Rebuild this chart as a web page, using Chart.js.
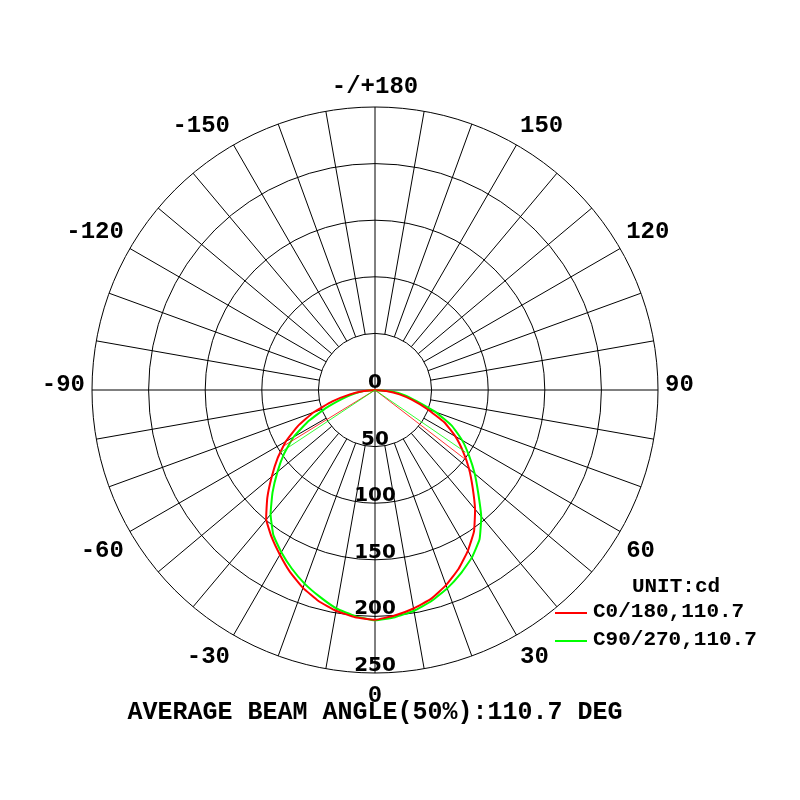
<!DOCTYPE html>
<html>
<head>
<meta charset="utf-8">
<title>Polar intensity curve</title>
<script src="https://cdn.jsdelivr.net/npm/chart.js@4.4.1/dist/chart.umd.min.js"></script>
<style>
  html, body { margin: 0; padding: 0; background: #fff; }
  #chart { display: block; }
</style>
</head>
<body>
<canvas id="chart" width="800" height="800"></canvas>
<script>
// Gamma angles of the readings, 0 = straight down, 90 = horizontal
const gammaSteps = [0, 5, 10, 15, 20, 25, 30, 35, 40, 45, 50, 55, 60, 65, 70, 75, 80, 85, 90];

// Intensity (cd), per half plane
const c0Values   = [203, 200, 196, 191, 183.5, 174.5, 164, 152.5, 137.5, 122, 108.5, 95, 82, 67.5, 49, 34, 22, 10, 0];
const c180Values = [203, 201.5, 198, 193, 186, 177.5, 168, 159, 149.5, 134.5, 119, 105, 91, 75, 58, 39, 22.5, 10, 0];
const c90Values  = [203.5, 201.5, 198, 193, 186.5, 179, 171, 161, 146, 129, 115, 101.5, 89, 75, 57, 38, 27, 15, 0];
const c270Values = [203.5, 200.5, 196, 189, 182, 174, 165.5, 156.5, 143.5, 128, 112.5, 98, 83, 64.5, 45.5, 30, 19, 9, 0];

// Half-peak (beam edge) markers: angle (deg, + = right side) and value
const redBeamAngles = [52.5, -58.5];
const redBeamValues = [99, 96];
const greenBeamAngles = [55.5, -56.5];
const greenBeamValues = [97, 100];

// Radial rings, grid spoke step and the angle labels shown
const ringTicks = [0, 50, 100, 150, 200, 250];
const spokeStep = 10;
const angleTickLabels = [0, 30, 60, 90, 120, 150, 180, -150, -120, -90, -60, -30];

const legendTitle = "UNIT:cd";
const seriesNames = ["C0/180,110.7", "C90/270,110.7"];
const seriesColors = ["#ff0000", "#00ff00"];
const footerText = "AVERAGE BEAM ANGLE(50%):110.7 DEG";

// Radar positions every 5 degrees, starting at the bottom and going clockwise (to the left side)
let spokeAngles = [];
for (let i = 0; i < 72; i++) {
    spokeAngles.push(i <= 36 ? -5 * i : 360 - 5 * i);
}

// Merge the two half planes into one ring of values
let buildRing = (rightHalf, leftHalf) => {
    return spokeAngles.map(a => {
        let k = gammaSteps.indexOf(Math.abs(a));
        if (k < 0) return 0;
        return a >= 0 ? rightHalf[k] : leftHalf[k];
    });
};

// Angle in degrees -> (fractional) radar index
let angleToIndex = (a) => {
    let idx = -a / 5;
    if (idx < 0) idx += 72;
    return idx;
};

const monoBold = (size) => "bold " + size + "px 'Liberation Mono', 'Courier New', monospace";

// Spokes, beam lines and all text, placed through the radial scale
const polarDecor = {
    id: "polarDecor",
    beforeDatasetsDraw(chart) {
        const ctx = chart.ctx;
        const r = chart.scales.r;
        ctx.save();
        ctx.strokeStyle = "#000";
        ctx.lineWidth = 1;
        spokeAngles.forEach((a, i) => {
            if (a % spokeStep !== 0) return;
            let from = (a % 90 === 0) ? 0 : ringTicks[1];
            let p0 = r.getPointPositionForValue(i, from);
            let p1 = r.getPointPositionForValue(i, ringTicks[ringTicks.length - 1]);
            ctx.beginPath();
            ctx.moveTo(p0.x, p0.y);
            ctx.lineTo(p1.x, p1.y);
            ctx.stroke();
        });
        ctx.restore();
    },
    afterDatasetsDraw(chart) {
        const ctx = chart.ctx;
        const r = chart.scales.r;
        const c = r.getPointPositionForValue(0, 0);
        ctx.save();

        // thin beam-edge lines
        ctx.lineWidth = 0.8;
        [[redBeamAngles, redBeamValues, seriesColors[0]], [greenBeamAngles, greenBeamValues, seriesColors[1]]].forEach(([angs, vals, col]) => {
            ctx.strokeStyle = col;
            angs.forEach((a, k) => {
                let p = r.getPointPositionForValue(angleToIndex(a), vals[k]);
                ctx.beginPath();
                ctx.moveTo(c.x, c.y);
                ctx.lineTo(p.x, p.y);
                ctx.stroke();
            });
        });

        // ring values along the downward axis
        ctx.fillStyle = "#000";
        ctx.font = "bold 20px 'DejaVu Sans', sans-serif";
        ctx.textAlign = "center";
        ctx.textBaseline = "alphabetic";
        ringTicks.forEach(v => {
            let p = r.getPointPositionForValue(0, v);
            ctx.fillText(String(v), p.x, p.y - 2);
        });

        // angle labels outside the outer ring
        ctx.font = monoBold(24);
        const outer = r.getDistanceFromCenterForValue(ringTicks[ringTicks.length - 1]) + 7;
        angleTickLabels.forEach(a => {
            let idx = angleToIndex(a);
            let p = r.getPointPosition(idx, outer);
            let dx = p.x - c.x;
            let dy = p.y - c.y;
            let text = Math.abs(a) === 180 ? "-/+180" : String(a);
            ctx.textAlign = dx > 1 ? "left" : (dx < -1 ? "right" : "center");
            let y = p.y;
            if (dy > 1) {
                ctx.textBaseline = "top";
                y = p.y + 4;
            } else if (dy < -1) {
                ctx.textBaseline = "bottom";
                y = p.y - 1;
            } else {
                ctx.textBaseline = "middle";
                y = p.y - 5;
            }
            ctx.fillText(text, p.x, y);
        });

        // legend
        ctx.textBaseline = "middle";
        ctx.textAlign = "center";
        ctx.font = monoBold(21);
        ctx.fillText(legendTitle, 676, 587);
        ctx.textAlign = "left";
        seriesNames.forEach((name, k) => {
            let y = 613 + k * 28;
            ctx.strokeStyle = seriesColors[k];
            ctx.lineWidth = 2;
            ctx.beginPath();
            ctx.moveTo(555, y);
            ctx.lineTo(587, y);
            ctx.stroke();
            ctx.fillStyle = "#000";
            ctx.fillText(name, 593, y - 1);
        });

        // footer
        ctx.textAlign = "center";
        ctx.font = monoBold(25);
        ctx.fillText(footerText, c.x, 713);
        ctx.restore();
    }
};

const ctx = document.getElementById("chart").getContext("2d");
const myChart = new Chart(ctx, {
    type: "radar",
    data: {
        labels: spokeAngles.map(String),
        datasets: [
            {
                label: seriesNames[0],
                data: buildRing(c0Values, c180Values),
                borderColor: seriesColors[0],
                borderWidth: 2,
                pointRadius: 0,
                fill: false,
                tension: 0.12
            },
            {
                label: seriesNames[1],
                data: buildRing(c90Values, c270Values),
                borderColor: seriesColors[1],
                borderWidth: 2,
                pointRadius: 0,
                fill: false,
                tension: 0.12
            }
        ]
    },
    options: {
        responsive: false,
        animation: false,
        devicePixelRatio: 1,
        layout: {
            padding: { left: 92, right: 142, top: 107, bottom: 127 }
        },
        plugins: {
            legend: { display: false },
            tooltip: { enabled: false }
        },
        scales: {
            r: {
                min: 0,
                max: 250,
                startAngle: 180,
                ticks: { stepSize: 50, display: false },
                grid: { circular: true, color: "#000", lineWidth: 1 },
                angleLines: { display: false },
                pointLabels: { display: false }
            }
        }
    },
    plugins: [polarDecor]
});
</script>
</body>
</html>
